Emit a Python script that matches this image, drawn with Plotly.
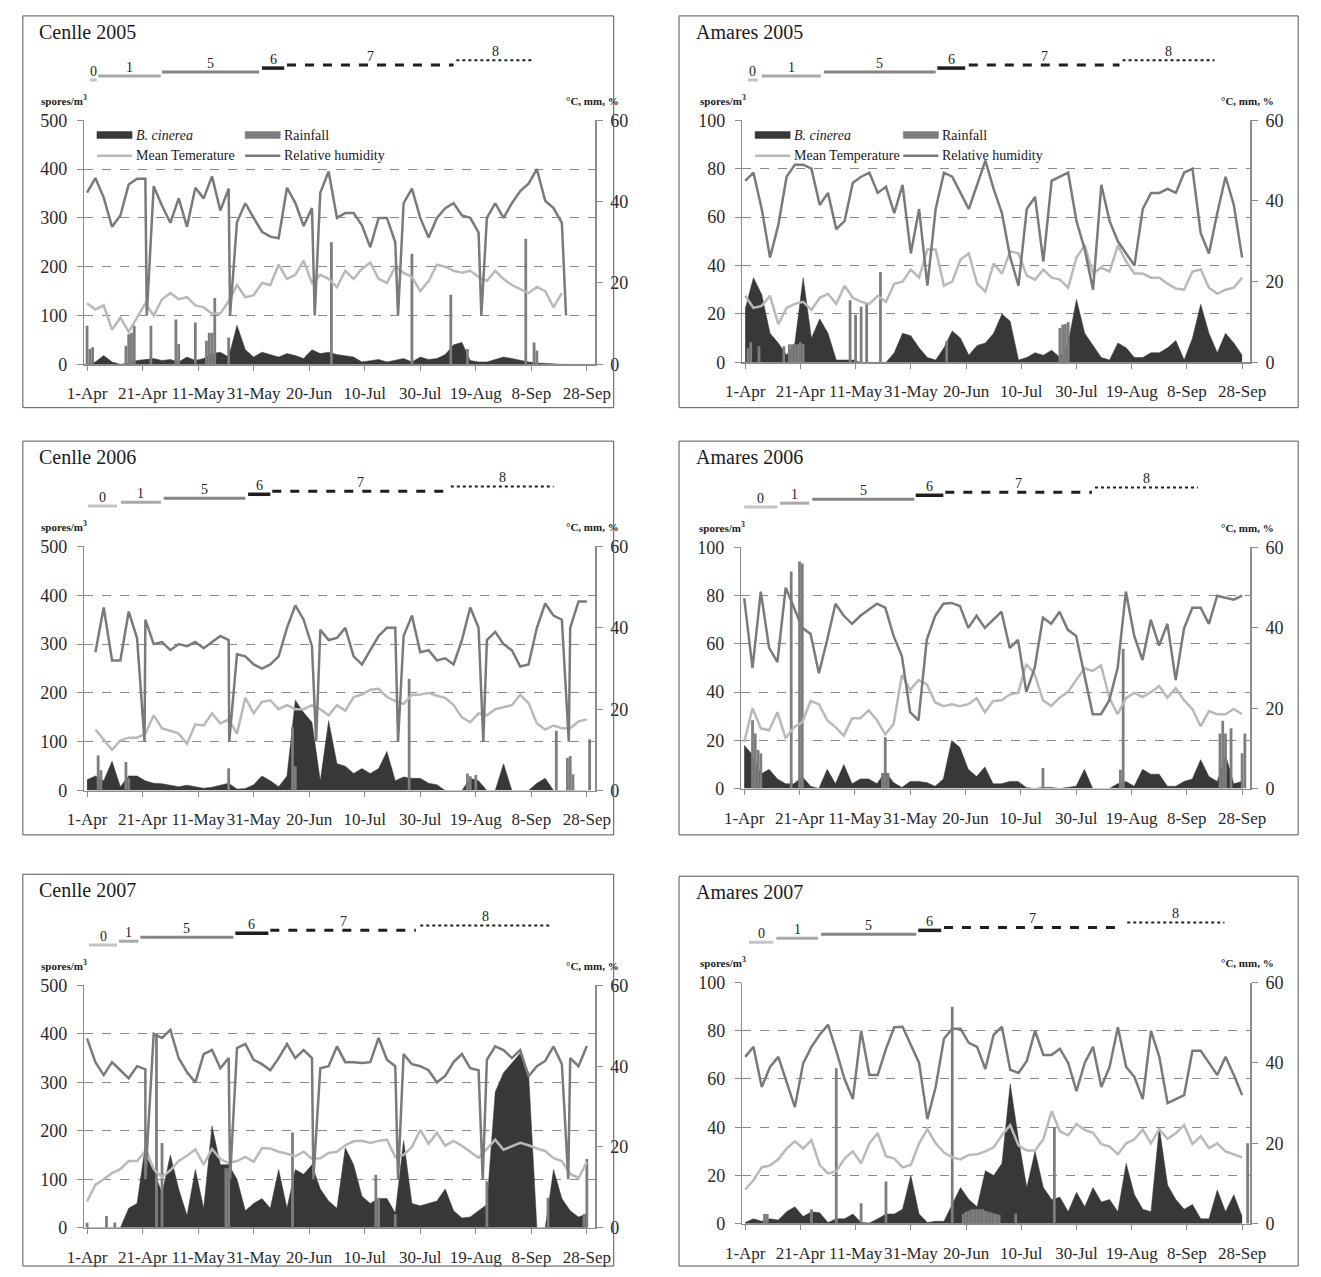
import plotly.graph_objects as go

W, H = 1321, 1277
FONT = "Liberation Serif, Times New Roman, serif"

# ---------------- shared category data ----------------
grid_days = list(range(0, 181, 3))          # sampled days since 1-Apr
tick_days = list(range(0, 181, 20))
tick_labels = ["1-Apr", "21-Apr", "11-May", "31-May", "20-Jun",
               "10-Jul", "30-Jul", "19-Aug", "8-Sep", "28-Sep"]
stage_names = ["0", "1", "5", "6", "7", "8"]
N = None

# ---------------- Cenlle 2005 ----------------
c05_botrytis = [0, 5, 18, 5, 0, 3, 8, 10, 12, 8,
                10, 5, 15, 8, 12, 22, 25, 15, 80, 30,
                15, 25, 20, 15, 22, 18, 12, 30, 22, 25,
                20, 18, 15, 5, 8, 10, 5, 8, 12, 5,
                15, 10, 12, 20, 40, 45, 8, 5, 5, 10,
                15, 12, 8, 5, 3, 2, 0, 0, 0, 0, 0]
c05_temp = [15, 13.5, 14.5, 8.5, 11.5, 8, 11.5, 15, 12, 16,
            17.5, 16, 16.5, 14.5, 14, 12.5, 12.5, 15.5, 19.5, 16.5,
            17, 20, 19.5, 24.5, 21, 22, 25.5, 20, 22, 21,
            19, 23, 21, 23.5, 25, 21, 20, 24, 22.5, 21.5,
            18, 20.5, 24.5, 24, 23, 22.5, 23, 21.5, 20.5, 23,
            21, 19.5, 18.5, 17.5, 19, 18, 14, 17.5, N, N, N]
c05_rh = [42.2, 45.8, 41, 33.8, 36.6, 44.2, 45.6, 45.6, 43.8, 39,
          34.8, 40.8, 33.8, 43.4, 40.8, 46.2, 37.8, 43.2, 35, 39.6,
          36, 32.6, 31.4, 31, 43.4, 39.7, 34, 38.4, 42.2, 47.4,
          36, 37.2, 37.2, 34.2, 28.8, 36, 36, 30, 39.6, 43.2,
          36, 31.2, 36, 38.4, 39.6, 36.6, 36, 32.4, 36, 39.6,
          36, 39.6, 42.6, 44.4, 48, 40.2, 38.4, 34.8, N, N, N]
c05_rh_drop_days = [21.5, 51.5, 82, 112, 142, 172.5]
c05_rh_drop_vals = [12, 12, 12, 12, 12, 12]
c05_rain_days = [0, 1, 2, 14, 15, 16, 17, 23, 32, 33, 39, 43, 44, 45, 46, 51, 88, 117, 131, 137, 158, 161, 162]
c05_rain_mm = [9.5, 3.8, 4.2, 4.6, 7.4, 7.8, 9.5, 9.5, 11, 5, 10.3, 5.8, 7.8, 7.8, 16.3, 6.6, 30, 27.2, 17.1, 3.8, 30.9, 5.4, 3.4]
c05_stage_start = [1, 4, 27, 63, 72, 133]
c05_stage_end = [3.5, 26.5, 62, 71, 132, 161]

# ---------------- Amares 2005 ----------------
a05_botrytis = [22, 35, 28, 12, 8, 3, 8, 35, 10, 18,
                12, 1, 1, 1, 0, 0, 0, 0, 4, 12,
                11, 6, 2, 1, 6, 13, 10, 3, 7, 8,
                12, 20, 17, 1, 2, 4, 3, 5, 2, 8,
                26, 12, 7, 2, 1, 8, 6, 2, 2, 4,
                4, 6, 9, 1, 10, 24, 12, 4, 12, 8, 3]
a05_temp = [16.5, 13.5, 14, 16.5, 9.5, 13.5, 14.5, 15, 13, 16,
            17, 14.5, 19, 16, 15, 14.5, 16.5, 15, 19.5, 20,
            23, 21, 28, 28, 19, 20, 25.5, 27, 19.5, 17.5,
            24.5, 22, 27.5, 27, 21.5, 20.5, 23, 21, 20.5, 18.5,
            26, 29, 22, 23.5, 22.5, 29, 25, 22, 22, 21,
            21, 19.5, 18.3, 18, 22.5, 23, 18.5, 17, 18, 18.5, 21]
a05_rh = [45, 47, 38, 26, 34, 46, 49, 49, 48, 39,
          42, 33, 35, 44.5, 46, 47, 42, 43.5, 37, 44,
          27, 38, 19, 38, 47, 46, 42, 38, 44, 50,
          43, 37, 26, 19, 38, 41, 25, 45, 46, 47,
          35, 28, 18, 44, 35, 30, 27, 24, 38, 42,
          42, 43, 42, 47, 48, 32, 27, 37, 46, 39, 26]
a05_rh_drop_days = []
a05_rh_drop_vals = []
a05_rain_days = [1, 2, 5, 14, 16, 17, 18, 19, 20, 21, 38, 40, 42, 44, 49, 73, 114, 115, 116, 117]
a05_rain_mm = [3.5, 5, 4, 4, 4.5, 4.5, 4.5, 4.5, 5, 4.5, 15.4, 11.8, 13.8, 14.6, 22.4, 5.3, 8.5, 9.4, 9.5, 10]
a05_stage_start = [1, 6, 28.5, 69.6, 81, 136.7]
a05_stage_end = [4.6, 27.4, 69, 79.7, 135.6, 170]

# ---------------- Cenlle 2006 ----------------
c06_botrytis = [22, 30, 20, 60, 8, 30, 30, 20, 15, 14,
                11, 8, 11, 8, 5, 7, 11, 15, 3, 4,
                12, 30, 20, 8, 30, 185, 160, 140, 20, 143,
                55, 50, 35, 45, 35, 45, 80, 20, 28, 25,
                25, 15, 12, 0, 0, 0, 25, 20, 0, 0,
                55, 0, 0, 0, 15, 25, 0, 0, 0, 0, 0]
c06_temp = [N, 15, 12.5, 10, 12.3, 13, 13, 14, 18.5, 15.3,
            14.7, 14, 11.5, 16.3, 16, 19, 16.5, 17.5, 14, 22.8,
            19, 21.8, 22.2, 20, 21, 20, 20, 21, 20, 18.5,
            21, 19.6, 23, 23.6, 24.8, 25, 23, 22, 21.3, 23.5,
            23.6, 24, 23.3, 22.8, 21, 18, 16.8, 19, 18.5, 20,
            20.5, 21, 23.5, 21.5, 16.5, 15, 16, 15.3, 15.3, 17, 17.5]
c06_rh = [N, 34, 45, 32, 32, 44, 37.5, 42, 36, 36.5,
          34.5, 36, 35.5, 36.5, 35, 36.5, 38, 37, 33.5, 33,
          31, 30, 31, 33, 40, 45.5, 42, 35.5, 39.5, 37,
          37.5, 40, 33, 31, 34.5, 38, 40, 40, 38, 43,
          34, 34.5, 32, 32.5, 31, 37, 45, 40, 37, 39,
          36, 34.5, 30.5, 31, 40, 46, 43, 42, 40, 46.5, 46.5]
c06_rh_drop_days = [20.7, 51.2, 82.5, 112, 142.7, 173.5]
c06_rh_drop_vals = [12, 12, 12, 12, 12, 12]
c06_rain_days = [4, 5, 14, 15, 51, 74, 75, 116, 137, 138, 140, 169, 173, 174, 175, 181]
c06_rain_mm = [8.6, 5, 7, 3, 5.5, 15.6, 6, 27.5, 4.2, 3.5, 3.8, 14.7, 8, 8.5, 4, 12.6]
c06_stage_start = [0.3, 12.2, 27.6, 58, 66.7, 131]
c06_stage_end = [10.8, 26.6, 57, 66, 130, 168]

# ---------------- Amares 2006 ----------------
a06_botrytis = [18, 14, 6, 8, 4, 2, 2, 5, 1, 0,
                8, 2, 10, 2, 4, 4, 2, 7, 2.5, 0.5,
                3, 3, 2.5, 1, 4, 20, 17, 8, 5, 9,
                2, 2, 3, 3, 0.5, 0, 0.5, 0.5, 0, 0.5,
                1, 8, 0, 0, 0, 2, 3, 1, 8, 6,
                6, 1, 1, 3, 4, 12, 5, 3, 14, 2, 3]
a06_temp = [11.6, 20, 15, 14.5, 19, 12.5, 15.3, 16.5, 21.8, 21,
            17, 15.3, 13.2, 17.5, 17.5, 19.5, 17, 13.5, 16, 28.3,
            24.5, 27, 26, 21.5, 20.5, 21, 20.5, 21, 22.5, 19,
            21.8, 22, 23.4, 23.8, 31, 28.5, 22, 20.6, 22.6, 24,
            27, 29.9, 29.3, 30.7, 22.6, 18.5, 22.5, 23.8, 22.8, 24,
            25.5, 22.6, 25, 22, 19.8, 15.5, 19.3, 18.5, 18.5, 19.8, 18.5]
a06_rh = [47.4, 30, 49, 35, 31.5, 50, 45, 40, 38.5, 28.7,
          37, 46, 43, 41, 43, 44.5, 46, 45, 38, 33,
          19, 17, 37, 42.9, 46, 46.2, 45.4, 40, 43, 40,
          42, 44, 35, 37, 24, 30, 42.5, 41, 44, 39.5,
          38, 28, 18.5, 18.5, 22, 30, 49, 38, 32, 42,
          35.6, 41, 27, 39.8, 45, 45, 41, 48, 47.5, 47, 48]
a06_rh_drop_days = []
a06_rh_drop_vals = []
a06_rain_days = [3, 4, 5, 6, 17, 20, 21, 50, 51, 52, 108, 136, 137, 172, 173, 174, 176, 180, 181]
a06_rain_mm = [17, 13.7, 9.6, 8.8, 54, 56.5, 56, 3.9, 12.8, 3.9, 5.1, 4.7, 34.8, 13.7, 16.9, 13.7, 15, 8.8, 13.7]
a06_stage_start = [0, 13, 24.6, 62, 72.7, 126.8]
a06_stage_end = [12, 23.5, 61.5, 72, 125.7, 164]

# ---------------- Cenlle 2007 ----------------
c07_botrytis = [0, 0, 0, 0, 0, 40, 50, 170, 120, 70,
                150, 80, 25, 120, 40, 210, 130, 130, 100, 35,
                50, 60, 40, 120, 40, 120, 110, 130, 80, 55,
                40, 165, 130, 65, 50, 60, 60, 30, 180, 50,
                45, 50, 55, 80, 35, 20, 22, 35, 48, 280,
                320, 340, 360, 320, 0, 0, 120, 60, 35, 22, 28]
c07_temp = [6.5, 10.6, 12, 13.5, 14.5, 16.5, 16.5, 19, 14.5, 12.5,
            14.2, 16.5, 17.8, 19.4, 15.6, 19.5, 17, 16, 16.5, 17.5,
            16.3, 19.7, 19.6, 18.8, 18.3, 17.7, 18.8, 17.1, 17.2, 18.5,
            18.8, 20.4, 21.4, 21.5, 21, 21.5, 21.8, 17.5, 18, 20,
            24.2, 20.8, 23.5, 20.3, 21.5, 20.3, 18.8, 17.3, 19.5, 21.8,
            19.3, 20.2, 21, 20.4, 19.6, 19, 17.2, 16.5, 13.3, 12.3, 16.3]
c07_rh = [46.9, 41, 37.8, 41, 39, 37, 40, 39.2, 48, 47,
          49, 42, 38.5, 36, 43, 44, 39.5, 42, 44.5, 45.5,
          41.6, 40.5, 39, 42, 45.5, 42, 44, 42, 39.5, 40,
          44.9, 41, 41, 40.8, 41, 47, 41.6, 40, 43, 40.5,
          40, 39, 36, 37.6, 41, 43, 39.5, 39, 41.6, 44.9,
          44, 42, 44, 37.5, 40, 41.3, 44.9, 40.5, 42, 40, 45]
c07_rh_drop_days = [21, 51.5, 81.5, 112, 142.5, 173.3]
c07_rh_drop_vals = [12, 12, 12, 12, 12, 12]
c07_rain_days = [0, 7, 10, 25, 27, 50, 51, 74, 104, 105, 111, 144, 166, 179, 180]
c07_rain_mm = [1.2, 2.9, 1.3, 48, 21, 14.7, 14.7, 23.6, 13.1, 7.4, 3.3, 11.5, 7.4, 3.4, 17]
c07_stage_start = [0.7, 11.5, 19.2, 53.4, 66, 120]
c07_stage_end = [10.8, 18.5, 52.7, 65.3, 118.4, 167]

# ---------------- Amares 2007 ----------------
a07_botrytis = [0.5, 2, 1, 2, 1.5, 5, 7, 3, 5, 4.5,
                0.5, 2, 2, 4, 0.5, 0.3, 2, 4, 4, 6,
                20, 4, 0.5, 1, 1, 8, 15, 10, 7, 22,
                20, 25, 58, 35, 15, 30, 15, 10, 11, 5,
                13, 7, 15, 9, 10, 5, 25, 12, 6, 5,
                40, 16, 10, 6, 8, 2, 2, 14, 5, 12, 3]
a07_temp = [8.5, 10.8, 14, 14.5, 16, 18.7, 20.5, 18.7, 20.8, 14.6,
            12.5, 13, 16.2, 18, 15, 20, 22.5, 16.8, 16.2, 14,
            14.6, 20, 23.5, 20, 17.7, 16.5, 16, 17.1, 17.3, 18,
            19, 22, 24.5, 19.5, 18.2, 18.2, 21, 28, 23, 22,
            24.8, 23.3, 22.6, 19.8, 19.2, 17.3, 20, 21, 23.4, 20,
            23.5, 21.1, 22.5, 24.5, 19.8, 21.8, 18.8, 20, 18, 17.3, 16.5]
a07_rh = [41.5, 44, 34, 39, 41.5, 35, 29, 39.9, 44, 47,
          49.5, 43, 36, 31, 48, 37, 37, 43.5, 48.9, 49,
          44.5, 40, 26, 34, 46, 48.5, 48.5, 45, 44, 38.5,
          47, 49, 38.3, 37.5, 40.5, 48, 42, 42, 43.5, 40,
          33, 40, 44, 34, 39, 48.9, 39, 36.5, 31, 48,
          41.5, 30, 31, 32, 43, 43, 40, 37, 41.5, 37, 32]
a07_rh_drop_days = []
a07_rh_drop_vals = []
a07_rain_days = [7, 8, 24, 33, 42, 51, 75, 79, 80, 81, 82, 83, 84, 85, 86, 87, 88, 89, 90, 91, 92, 98, 112, 182]
a07_rain_mm = [2.4, 2.4, 3.6, 38.7, 5.1, 10.5, 54, 2.5, 3, 3.2, 3.6, 3.6, 3.6, 3.6, 3.6, 3.2, 3, 2.8, 2.6, 2.4, 2.2, 2.5, 24, 20]
a07_stage_start = [1.4, 11.3, 27.5, 62.7, 72, 138.4]
a07_stage_end = [10.2, 26.4, 62, 71, 136, 173.6]

# ---------------- layout / style ----------------
DARK = "#383838"
RAIN = "#7d7d7d"
TEMP = "#b9b9b9"
RHC = "#7a7a7a"
AXC = "#8c8c8c"
TXT = "#2a2a2a"

stage_colors = ["#c4c4c4", "#a9a9a9", "#858585", "#1e1e1e", "#1e1e1e", "#1e1e1e"]
stage_dash = ["solid", "solid", "solid", "solid", "dash", "dot"]
stage_width = [3, 3, 3, 3.5, 3, 2]
stage_offset = [41, 45, 49, 53, 56, 61]   # px above plot top

panels = [
    dict(title="Cenlle 2005", bot=c05_botrytis, temp=c05_temp, rh=c05_rh,
         dd=c05_rh_drop_days, dv=c05_rh_drop_vals, rd=c05_rain_days, rm=c05_rain_mm,
         ss=c05_stage_start, se=c05_stage_end, ymax=500, legend=True,
         temp_label="Mean Temerature", box=(6, 6, 612, 404), plot=(69, 112, 593, 360)),
    dict(title="Amares 2005", bot=a05_botrytis, temp=a05_temp, rh=a05_rh,
         dd=a05_rh_drop_days, dv=a05_rh_drop_vals, rd=a05_rain_days, rm=a05_rain_mm,
         ss=a05_stage_start, se=a05_stage_end, ymax=100, legend=True,
         temp_label="Mean Temperature", box=(679, 6, 1314, 404), plot=(744, 112, 1265, 358)),
    dict(title="Cenlle 2006", bot=c06_botrytis, temp=c06_temp, rh=c06_rh,
         dd=c06_rh_drop_days, dv=c06_rh_drop_vals, rd=c06_rain_days, rm=c06_rain_mm,
         ss=c06_stage_start, se=c06_stage_end, ymax=500, legend=False,
         temp_label="", box=(6, 438, 612, 838), plot=(69, 545, 593, 793)),
    dict(title="Amares 2006", bot=a06_botrytis, temp=a06_temp, rh=a06_rh,
         dd=a06_rh_drop_days, dv=a06_rh_drop_vals, rd=a06_rain_days, rm=a06_rain_mm,
         ss=a06_stage_start, se=a06_stage_end, ymax=100, legend=False,
         temp_label="", box=(679, 438, 1314, 838), plot=(743, 546, 1265, 791)),
    dict(title="Cenlle 2007", bot=c07_botrytis, temp=c07_temp, rh=c07_rh,
         dd=c07_rh_drop_days, dv=c07_rh_drop_vals, rd=c07_rain_days, rm=c07_rain_mm,
         ss=c07_stage_start, se=c07_stage_end, ymax=500, legend=False,
         temp_label="", box=(6, 878, 612, 1276), plot=(69, 991, 593, 1237)),
    dict(title="Amares 2007", bot=a07_botrytis, temp=a07_temp, rh=a07_rh,
         dd=a07_rh_drop_days, dv=a07_rh_drop_vals, rd=a07_rain_days, rm=a07_rain_mm,
         ss=a07_stage_start, se=a07_stage_end, ymax=100, legend=False,
         temp_label="", box=(679, 880, 1314, 1276), plot=(744, 988, 1265, 1233)),
]


def fx(x):
    return x / W


def fy(y):
    return 1 - y / H


fig = go.Figure()
layout = dict(width=W, height=H, margin=dict(l=0, r=0, t=0, b=0), autosize=False,
              paper_bgcolor="white", plot_bgcolor="rgba(0,0,0,0)", showlegend=False,
              barmode="overlay", font=dict(family=FONT, color=TXT))
shapes, annots = [], []

for i, p in enumerate(panels, start=1):
    xr = "x" if i == 1 else f"x{i}"
    xname = "xaxis" if i == 1 else f"xaxis{i}"
    L, R = 2 * i - 1, 2 * i
    yl = "y" if L == 1 else f"y{L}"
    yr = f"y{R}"
    ylname = "yaxis" if L == 1 else f"yaxis{L}"
    yrname = f"yaxis{R}"
    pl, pt, pr, pb = p["plot"]
    bl, bt, br, bb = p["box"]

    # B. cinerea area (left axis)
    fig.add_trace(go.Scatter(x=grid_days, y=p["bot"], mode="lines", fill="tozeroy",
                             line=dict(color=DARK, width=0.5), fillcolor=DARK,
                             xaxis=xr, yaxis=yl, hoverinfo="skip"))
    # Rainfall bars (right axis)
    fig.add_trace(go.Bar(x=p["rd"], y=p["rm"], width=1.0,
                         marker=dict(color=RAIN, line=dict(width=0)),
                         xaxis=xr, yaxis=yr, hoverinfo="skip"))
    # Mean temperature
    fig.add_trace(go.Scatter(x=grid_days, y=p["temp"], mode="lines",
                             line=dict(color=TEMP, width=2.5), connectgaps=False,
                             xaxis=xr, yaxis=yr, hoverinfo="skip"))
    # Relative humidity (with short drop-outs)
    pts = [(d, v) for d, v in zip(grid_days, p["rh"])] + list(zip(p["dd"], p["dv"]))
    pts.sort(key=lambda t: t[0])
    fig.add_trace(go.Scatter(x=[t[0] for t in pts], y=[t[1] for t in pts], mode="lines",
                             line=dict(color=RHC, width=2.5), connectgaps=False,
                             xaxis=xr, yaxis=yr, hoverinfo="skip"))

    layout[xname] = dict(domain=[fx(pl), fx(pr)], range=[-1, 183], anchor=yl,
                         tickmode="array", tickvals=tick_days, ticktext=tick_labels,
                         tickangle=0, ticks="outside", ticklen=5, tickcolor=AXC, showline=True,
                         linecolor=AXC, linewidth=1.5, showgrid=False, zeroline=False,
                         tickfont=dict(size=17, family=FONT, color=TXT),
                         ticklabelstandoff=8, fixedrange=True)
    ymax = p["ymax"]
    layout[ylname] = dict(domain=[fy(pb), fy(pt)], range=[0, ymax], anchor=xr,
                          tickmode="array", tickvals=list(range(0, ymax + 1, ymax // 5)),
                          ticks="outside", ticklen=6, tickcolor=AXC, showline=True,
                          linecolor=AXC, linewidth=1.5, showgrid=True, gridcolor="#8a8a8a",
                          griddash="dash", gridwidth=1, zeroline=False,
                          tickfont=dict(size=18, family=FONT, color=TXT),
                          ticklabelstandoff=6, fixedrange=True)
    layout[yrname] = dict(overlaying=yl, side="right", anchor=xr, range=[0, 60],
                          tickmode="array", tickvals=[0, 20, 40, 60], ticks="outside",
                          ticklen=6, tickcolor=AXC, showline=True, linecolor=AXC,
                          linewidth=1.5, showgrid=False, zeroline=False,
                          tickfont=dict(size=18, family=FONT, color=TXT),
                          ticklabelstandoff=4, fixedrange=True)

    # panel box
    shapes.append(dict(type="rect", xref="paper", yref="paper", x0=fx(bl), x1=fx(br),
                       y0=fy(bb), y1=fy(bt), line=dict(color="#555555", width=1)))
    # title
    annots.append(dict(text=p["title"], xref="paper", yref="paper", x=fx(bl + 15),
                       y=fy(bt + 16), xanchor="left", yanchor="middle", showarrow=False,
                       font=dict(size=20, family=FONT, color="#1a1a1a")))
    # axis unit labels
    annots.append(dict(text="<b>spores/m<sup>3</sup></b>", xref="paper", yref="paper",
                       x=fx(pl - 46), y=fy(pt - 21), xanchor="left", yanchor="middle",
                       showarrow=False, font=dict(size=11, family=FONT, color="#1a1a1a")))
    annots.append(dict(text="<b>°C, mm, %</b>", xref="paper", yref="paper",
                       x=fx(pr + 26), y=fy(pt - 20), xanchor="right", yanchor="middle",
                       showarrow=False, font=dict(size=11, family=FONT, color="#1a1a1a")))

    # phenological stages
    for j, name in enumerate(stage_names):
        ypx = pt - stage_offset[j]
        shapes.append(dict(type="line", xref=xr, yref="paper", x0=p["ss"][j], x1=p["se"][j],
                           y0=fy(ypx), y1=fy(ypx),
                           line=dict(color=stage_colors[j], width=stage_width[j],
                                     dash=stage_dash[j])))
        annots.append(dict(text=name, xref=xr, yref="paper",
                           x=(p["ss"][j] + p["se"][j]) / 2, y=fy(ypx - 9),
                           xanchor="center", yanchor="middle", showarrow=False,
                           font=dict(size=14, family=FONT, color="#222222")))

    # manual legend
    if p["legend"]:
        r1, r2 = pt + 15, pt + 36
        c1, c2 = pl + 13, pl + 165
        sw = 36
        shapes.append(dict(type="rect", xref="paper", yref="paper", x0=fx(c1), x1=fx(c1 + sw),
                           y0=fy(r1 + 3.5), y1=fy(r1 - 3.5), fillcolor=DARK,
                           line=dict(color=DARK, width=0.5)))
        shapes.append(dict(type="rect", xref="paper", yref="paper", x0=fx(c2), x1=fx(c2 + sw),
                           y0=fy(r1 + 3.5), y1=fy(r1 - 3.5), fillcolor=RAIN,
                           line=dict(color=RAIN, width=0.5)))
        shapes.append(dict(type="line", xref="paper", yref="paper", x0=fx(c1), x1=fx(c1 + sw),
                           y0=fy(r2), y1=fy(r2), line=dict(color=TEMP, width=2.5)))
        shapes.append(dict(type="line", xref="paper", yref="paper", x0=fx(c2), x1=fx(c2 + sw),
                           y0=fy(r2), y1=fy(r2), line=dict(color=RHC, width=2.5)))
        for txt, cx, ry in [("<i>B. cinerea</i>", c1, r1), ("Rainfall", c2, r1),
                            (p["temp_label"], c1, r2), ("Relative humidity", c2, r2)]:
            annots.append(dict(text=txt, xref="paper", yref="paper", x=fx(cx + sw + 2),
                               y=fy(ry), xanchor="left", yanchor="middle", showarrow=False,
                               font=dict(size=14, family=FONT, color="#1a1a1a")))

layout["shapes"] = shapes
layout["annotations"] = annots
fig.update_layout(**layout)
fig.write_html("out.html",
               config={"displayModeBar": False, "staticPlot": True},
               post_script="document.body.style.margin='0px';"
                           "document.body.style.overflow='hidden';")
